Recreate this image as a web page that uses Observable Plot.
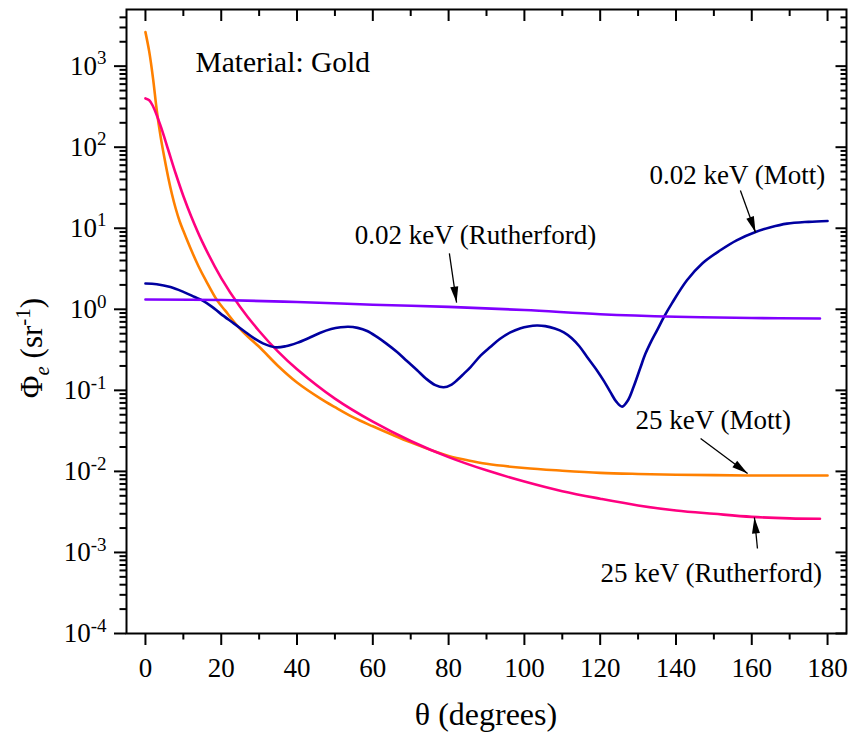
<!DOCTYPE html>
<html>
<head>
<meta charset="utf-8">
<script src="https://cdn.jsdelivr.net/npm/d3@7"></script>
<script src="https://cdn.jsdelivr.net/npm/@observablehq/plot@0.6"></script>
<style>
  body { margin: 0; background: #fff; }
  #chart svg { display: block; }
</style>
</head>
<body>
<div id="chart"></div>
<script>
// Normalised angular distribution Φe(θ) for electrons scattered by gold.

// 25 keV, Mott cross-section
const mott25Theta = [0, 1, 2, 3, 4, 5, 6, 7, 8, 9, 10, 12, 14, 16, 18.9, 21, 24.2, 27, 30, 35, 40, 46.2, 50, 55, 60, 65, 70, 77, 80, 85, 90, 100, 110, 120, 130, 140, 150, 160, 170, 180];
const mott25Phi   = [2630, 1510, 708, 282, 135, 74, 42.7, 26.3, 17.4, 12.3, 9.3, 5.5, 3.4, 2.24, 1.29, 0.97, 0.63, 0.46, 0.345, 0.2, 0.125, 0.079, 0.062, 0.046, 0.036, 0.0285, 0.0228, 0.0172, 0.0155, 0.0137, 0.0124, 0.0110, 0.0102, 0.0096, 0.0093, 0.0091, 0.0090, 0.0089, 0.0089, 0.0089];

// 25 keV, Rutherford cross-section
const ruth25Theta = [0, 1, 2, 4, 6, 8, 10, 12, 15, 20, 25, 30, 35, 40, 50, 60, 70, 80, 90, 100, 110, 120, 130, 140, 150, 160, 170, 178];
const ruth25Phi   = [400, 380, 320, 183, 93, 47, 25, 14.3, 6.8, 2.43, 1.07, 0.54, 0.30, 0.182, 0.079, 0.041, 0.0237, 0.0150, 0.0103, 0.0075, 0.0057, 0.0046, 0.0038, 0.0033, 0.0030, 0.00275, 0.00263, 0.0026];

// 0.02 keV, Mott cross-section
const mott002Theta = [0, 3, 6.6, 10, 13, 15, 17.5, 19.8, 23.3, 26, 28.6, 31, 34.3, 37, 40, 43, 46, 49, 51.5, 53.5, 56, 58.5, 61, 63.5, 66.4, 69, 71.7, 74, 76.5, 78.7, 80.8, 82.2, 84, 85.8, 88.5, 91, 93.5, 96.3, 99, 101, 103.3, 105.5, 108, 110.4, 112.5, 114.5, 116.5, 119.2, 121, 122.7, 124.3, 125.8, 127.3, 128.8, 130.6, 131.9, 133.2, 135, 136.8, 139, 142.9, 147, 151.7, 156, 161, 165, 169.3, 175, 180];
const mott002Phi   = [2.08, 2.04, 1.88, 1.64, 1.42, 1.29, 1.08, 0.885, 0.67, 0.54, 0.44, 0.38, 0.34, 0.35, 0.385, 0.44, 0.51, 0.57, 0.60, 0.61, 0.59, 0.54, 0.46, 0.38, 0.297, 0.23, 0.177, 0.14, 0.116, 0.109, 0.118, 0.133, 0.16, 0.194, 0.27, 0.343, 0.43, 0.52, 0.585, 0.615, 0.63, 0.62, 0.58, 0.52, 0.44, 0.35, 0.26, 0.175, 0.13, 0.095, 0.072, 0.063, 0.075, 0.11, 0.19, 0.28, 0.38, 0.55, 0.80, 1.2, 2.28, 3.7, 5.35, 7.1, 9.0, 10.3, 11.4, 12.0, 12.3];

// 0.02 keV, Rutherford cross-section
const ruth002Theta = [0, 20, 40, 60, 80, 100, 120, 140, 160, 178];
const ruth002Phi   = [1.32, 1.30, 1.23, 1.14, 1.07, 0.98, 0.87, 0.81, 0.78, 0.77];

// Axis ticks
const xMajor = [0, 20, 40, 60, 80, 100, 120, 140, 160, 180];
const xMinor = [10, 30, 50, 70, 90, 110, 130, 150, 170];
const yDecades = [1e-4, 1e-3, 1e-2, 1e-1, 1e0, 1e1, 1e2, 1e3];
const yExponents = ["-4", "-3", "-2", "-1", "0", "1", "2", "3"];
const yMinor = [];
for (const d of yDecades) {
  for (let k = 2; k <= 9; k++) if (d * k < 5000) yMinor.push(d * k);
}

// Curve labels and their arrows (data coordinates)
const noteText  = ["Material: Gold", "0.02 keV (Mott)", "0.02 keV (Rutherford)", "25 keV (Mott)", "25 keV (Rutherford)"];
const noteTheta = [13.2, 133.0, 55.2, 129.3, 120.1];
const notePhi   = [836, 34.7, 6.4, 0.0333, 0.000438];
const noteSize  = [29.5, 27, 27, 27, 27];

const arrowTheta1 = [157.0, 80.2, 146.5, 161.5];
const arrowPhi1   = [29.2, 4.89, 0.0255, 0.00112];
const arrowTheta2 = [161.0, 82.1, 158.9, 160.7];
const arrowPhi2   = [8.87, 1.21, 0.00942, 0.0027];

const series = [
  {name: "25 keV (Mott)", theta: mott25Theta, phi: mott25Phi, color: "#FF8000"},
  {name: "25 keV (Rutherford)", theta: ruth25Theta, phi: ruth25Phi, color: "#FF0080"},
  {name: "0.02 keV (Mott)", theta: mott002Theta, phi: mott002Phi, color: "#0000A0"},
  {name: "0.02 keV (Rutherford)", theta: ruth002Theta, phi: ruth002Phi, color: "#8000FF"}
];
const rows = series.flatMap(s => s.theta.map((t, i) => ({series: s.name, theta: t, phi: s.phi[i]})));
const notes = noteText.map((text, i) => ({text, theta: noteTheta[i], phi: notePhi[i], size: noteSize[i]}));
const arrows = arrowTheta1.map((t, i) => ({x1: t, y1: arrowPhi1[i], x2: arrowTheta2[i], y2: arrowPhi2[i]}));

const font = "Liberation Serif, DejaVu Serif, serif";

const layout = {
  width: 852,
  height: 739,
  marginLeft: 126,
  marginRight: 6,
  marginTop: 9,
  marginBottom: 106,
  style: {fontFamily: font, background: "#fff", color: "#000", overflow: "visible"},
  x: {domain: [-5, 185]},
  y: {type: "log", domain: [1e-4, 5000]}
};

const baseMarks = [
  // bottom axis: outward ticks with labels
  Plot.axisX(xMajor, {anchor: "bottom", tickSize: 12, tickPadding: 12, fontSize: 27, fontFamily: font, strokeWidth: 2, label: null}),
  Plot.axisX(xMinor, {anchor: "bottom", tickSize: 6.5, strokeWidth: 2, tickFormat: () => "", label: null}),
  // top axis: inward ticks
  Plot.axisX(xMajor, {anchor: "top", tickSize: -11, strokeWidth: 2, tickFormat: () => "", label: null}),
  Plot.axisX(xMinor, {anchor: "top", tickSize: -6, strokeWidth: 2, tickFormat: () => "", label: null}),
  // left axis: outward ticks with decade labels
  Plot.axisY(yDecades, {anchor: "left", tickSize: 12, tickPadding: 8, fontSize: 27, fontFamily: font, strokeWidth: 2,
    tickFormat: d => "10^" + yExponents[yDecades.indexOf(d)], label: null}),
  Plot.axisY(yMinor, {anchor: "left", tickSize: 6.5, strokeWidth: 2, tickFormat: () => "", label: null}),
  // right axis: inward ticks
  Plot.axisY(yDecades, {anchor: "right", tickSize: -11.5, strokeWidth: 2, tickFormat: () => "", label: null}),
  Plot.axisY(yMinor, {anchor: "right", tickSize: -6.5, strokeWidth: 2, tickFormat: () => "", label: null}),
  Plot.frame({strokeWidth: 2}),
  ...series.map(s => Plot.line(rows.filter(r => r.series === s.name), {
    x: "theta", y: "phi", stroke: s.color, strokeWidth: 2.6, curve: "catmull-rom"
  })),
  Plot.text(notes, {x: "theta", y: "phi", text: "text", fontSize: "size", fontFamily: font, textAnchor: "start", lineAnchor: "bottom", fill: "#000"}),
  Plot.link(arrows, {x1: "x1", y1: "y1", x2: "x2", y2: "y2", stroke: "#000", strokeWidth: 1.3})
];

// First pass to obtain the scales, used to orient the arrowheads on screen
const probe = Plot.plot({...layout, marks: baseMarks});
const sx = probe.scale("x"), sy = probe.scale("y");
for (const a of arrows) {
  const dx = sx.apply(a.x2) - sx.apply(a.x1);
  const dy = sy.apply(a.y2) - sy.apply(a.y1);
  a.angle = Math.atan2(dx, -dy) * 180 / Math.PI;
}

const chart = Plot.plot({
  ...layout,
  marks: [
    ...baseMarks,
    Plot.vector(arrows, {x: "x2", y: "y2", length: 16, r: 4, rotate: "angle", anchor: "end", shape: "spike", fill: "#000", stroke: "none"})
  ]
});

const svg = d3.select(chart);

// decade labels as 10 with a raised exponent
svg.selectAll('g[aria-label="y-axis tick label"] text').each(function () {
  const s = this.textContent;
  if (!s.startsWith("10^")) return;
  const exp = s.slice(3);
  const t = d3.select(this);
  t.text(null);
  t.append("tspan").text("10");
  t.append("tspan").attr("font-size", 19).attr("dy", "-0.55em").text(exp);
});

// x-axis title
svg.append("text")
  .attr("x", 486).attr("y", 725)
  .attr("text-anchor", "middle")
  .attr("font-size", 32)
  .style("font-family", font)
  .text("θ (degrees)");

// y-axis title: Φ with italic subscript e, unit sr with exponent -1
const yt = svg.append("text")
  .attr("transform", "translate(42,348) rotate(-90)")
  .attr("text-anchor", "middle")
  .attr("font-size", 31)
  .style("font-family", font);
yt.append("tspan").text("Φ");
yt.append("tspan").attr("font-style", "italic").attr("font-size", 21).attr("dy", "0.35em").text("e");
yt.append("tspan").attr("dy", "-0.233em").text(" (sr");
yt.append("tspan").attr("font-size", 21).attr("dy", "-0.6em").text("-1");
yt.append("tspan").attr("dy", "0.4em").text(")");

document.getElementById("chart").append(chart);
</script>
</body>
</html>
